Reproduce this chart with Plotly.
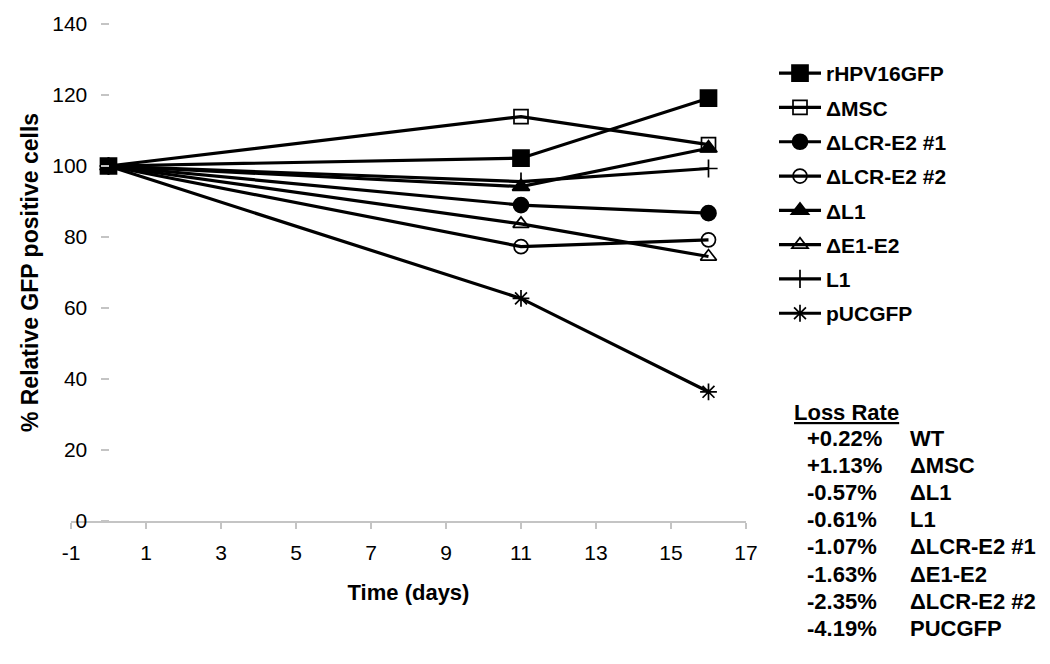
import plotly.graph_objects as go

days = [0, 11, 16]
series_names = ["rHPV16GFP", "ΔMSC", "ΔLCR-E2 #1", "ΔLCR-E2 #2", "ΔL1", "ΔE1-E2", "L1", "pUCGFP"]
rhpv16gfp = [100, 102.2, 119.1]
dmsc = [100, 113.9, 106.0]
dlcr_e2_1 = [100, 89.0, 86.7]
dlcr_e2_2 = [100, 77.3, 79.2]
dl1 = [100, 94.2, 105.0]
de1_e2 = [100, 83.7, 74.5]
l1 = [100, 95.6, 99.3]
pucgfp = [100, 62.7, 36.4]
symbols = ["square", "square-open", "circle", "circle-open", "triangle-up", "triangle-up-open", "cross-thin", "asterisk-open"]
sizes = [16, 14, 15, 14, 15, 14, 13, 14]

loss_rates = ["+0.22%", "+1.13%", "-0.57%", "-0.61%", "-1.07%", "-1.63%", "-2.35%", "-4.19%"]
loss_names = ["WT", "ΔMSC", "ΔL1", "L1", "ΔLCR-E2 #1", "ΔE1-E2", "ΔLCR-E2 #2", "PUCGFP"]

x_ticks = [-1, 1, 3, 5, 7, 9, 11, 13, 15, 17]
y_ticks = [0, 20, 40, 60, 80, 100, 120, 140]

all_series = [rhpv16gfp, dmsc, dlcr_e2_1, dlcr_e2_2, dl1, de1_e2, l1, pucgfp]

FONT = "Liberation Sans, Arial, sans-serif"

fig = go.Figure()
# draw in reverse so the first series sits on top; legend order kept via legendrank
for i in reversed(range(len(series_names))):
    fig.add_trace(go.Scatter(
        x=days, y=all_series[i], name=series_names[i], mode="lines+markers",
        legendgroup=f"g{i}", legendrank=i + 1,
        line=dict(color="black", width=3.2),
        marker=dict(symbol=symbols[i], size=sizes[i], color="black",
                    line=dict(color="black", width=1.7)),
    ))

# page has an 8px body margin; target positions below are in page pixels
OFF = 8
W, H = 1050, 664
L, T = 71 - OFF, 24 - OFF
RIGHT_PX, BOTTOM_PX = 746 - OFF, 521 - OFF
R, B = W - RIGHT_PX, H - BOTTOM_PX
pw = RIGHT_PX - L
ph = BOTTOM_PX - T


def px_x(x):
    return (x - OFF - L) / pw


def px_y(y):
    return (BOTTOM_PX - (y - OFF)) / ph


fig.update_layout(
    width=W, height=H,
    margin=dict(l=L, r=R, t=T, b=B, autoexpand=False),
    paper_bgcolor="white", plot_bgcolor="white",
    font=dict(family=FONT, color="black"),
    showlegend=True,
    legend=dict(
        x=px_x(774), y=px_y(53), xanchor="left", yanchor="top",
        font=dict(family=FONT, size=21, weight="bold", color="black"),
        tracegroupgap=4, itemwidth=42, bgcolor="rgba(0,0,0,0)",
    ),
    xaxis=dict(
        range=[-1, 17], tickvals=x_ticks, ticktext=[str(v) for v in x_ticks],
        showgrid=False, zeroline=False, showline=True, linecolor="#c4c4c4", linewidth=1.5,
        ticks="outside", ticklen=6, tickcolor="#c4c4c4", tickwidth=1.5,
        tickfont=dict(family=FONT, size=21, color="black"),
        ticklabelstandoff=6,
        title=dict(text="Time (days)", font=dict(family=FONT, size=22, weight="bold", color="black"), standoff=22),
        automargin=False,
    ),
    yaxis=dict(
        range=[0, 140], tickvals=y_ticks, ticktext=[str(v) for v in y_ticks],
        anchor="free", position=1 / 18,
        showgrid=False, zeroline=False, showline=False,
        ticks="outside", ticklen=8, tickcolor="#c4c4c4", tickwidth=1.5,
        tickfont=dict(family=FONT, size=21, color="black"),
        ticklabelstandoff=9,
        title=dict(text="% Relative GFP positive cells", font=dict(family=FONT, size=23, weight="bold", color="black"), standoff=6),
        automargin=False,
    ),
)

# Loss rate table
fig.add_annotation(xref="paper", yref="paper", x=px_x(792), y=px_y(412),
                   xanchor="left", yanchor="middle", showarrow=False,
                   text="<u>Loss Rate</u>", font=dict(family=FONT, size=22, weight="bold", color="black"))
for i, (rate, nm) in enumerate(zip(loss_rates, loss_names)):
    yy = 438 + i * 27.2
    fig.add_annotation(xref="paper", yref="paper", x=px_x(805), y=px_y(yy),
                       xanchor="left", yanchor="middle", showarrow=False,
                       text=rate, font=dict(family=FONT, size=22, weight="bold", color="black"))
    fig.add_annotation(xref="paper", yref="paper", x=px_x(908), y=px_y(yy),
                       xanchor="left", yanchor="middle", showarrow=False,
                       text=nm, font=dict(family=FONT, size=22, weight="bold", color="black"))

fig.write_html("out.html")
